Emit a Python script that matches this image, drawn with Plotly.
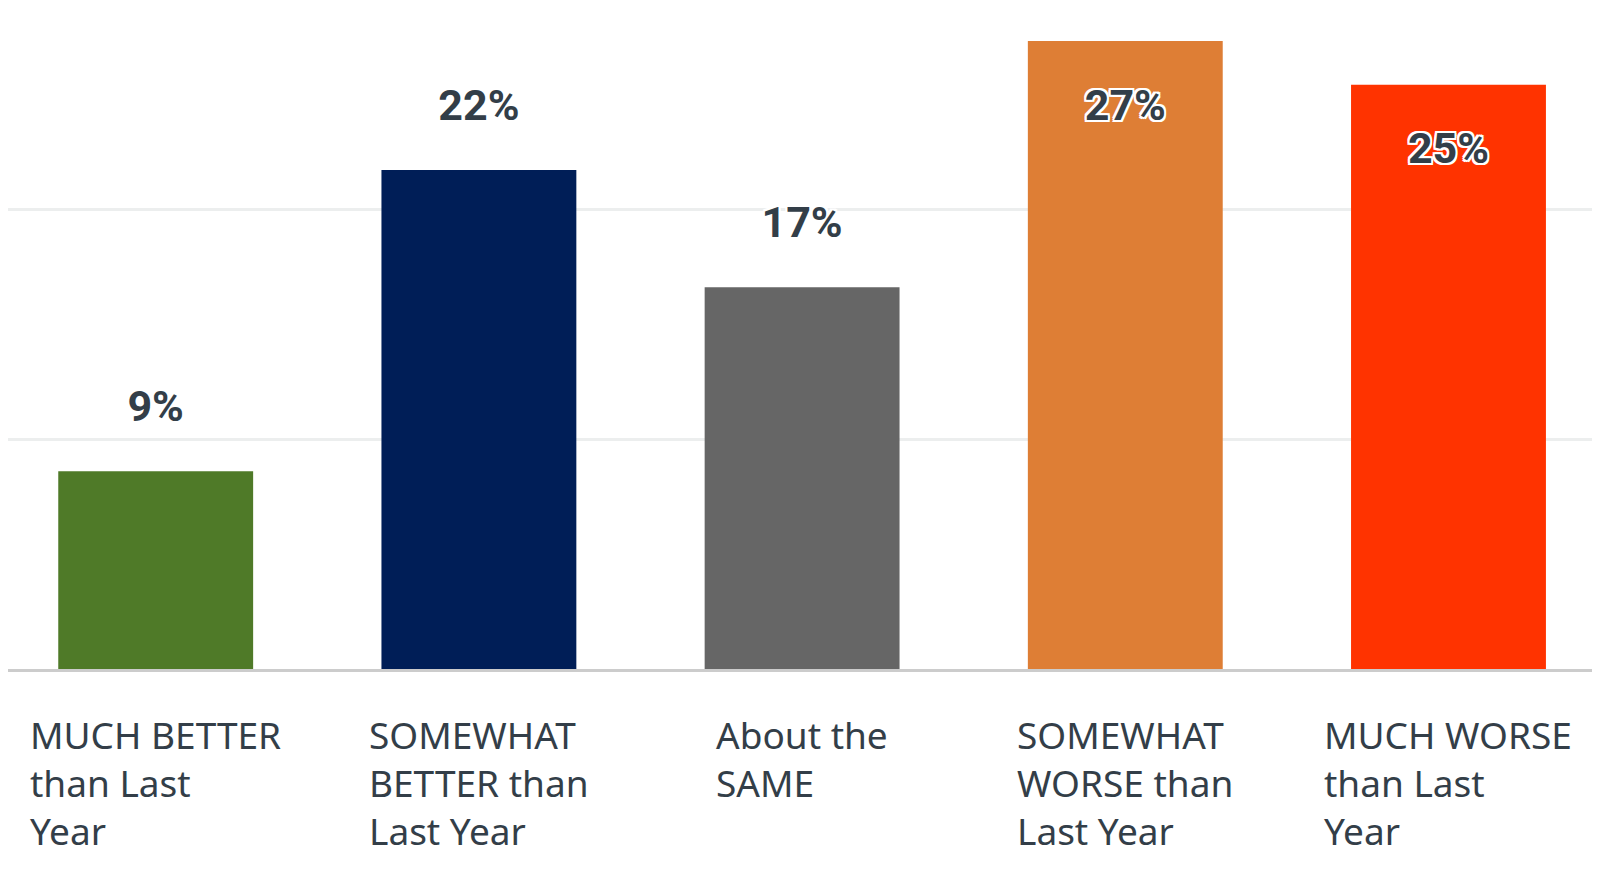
import plotly.graph_objects as go

categories = ["MUCH BETTER than Last Year", "SOMEWHAT BETTER than Last Year",
              "About the SAME", "SOMEWHAT WORSE than Last Year", "MUCH WORSE than Last Year"]
tick_labels = ["MUCH BETTER<br>than Last<br>Year", "SOMEWHAT<br>BETTER than<br>Last Year",
               "About the<br>SAME", "SOMEWHAT<br>WORSE than<br>Last Year", "MUCH WORSE<br>than Last<br>Year"]
values = [8.6, 21.7, 16.6, 27.3, 25.4]
value_labels = ["9%", "22%", "17%", "27%", "25%"]
colors = ["#4f7a28", "#001e57", "#666666", "#de7e35", "#ff3300"]

Y_MAX = 28.74
LABEL_OFFSET = 2.8
TEXT_NUDGE = -0.15
TEXT_COLOR = "#333e48"

label_y = [(v + LABEL_OFFSET if v + 2 * LABEL_OFFSET <= Y_MAX else v - LABEL_OFFSET) + TEXT_NUDGE
           for v in values]

fig = go.Figure()
fig.add_trace(go.Bar(x=categories, y=values, marker=dict(color=colors, line=dict(width=0)),
                     width=0.603, hoverinfo="skip"))
fig.add_trace(go.Scatter(
    x=categories, y=label_y, mode="text", text=value_labels, textposition="middle center",
    textfont=dict(family="Roboto", size=43, color=TEXT_COLOR, weight="bold",
                  shadow="2px 2px 0 #fff, -2px -2px 0 #fff, 2px -2px 0 #fff, -2px 2px 0 #fff, 0 2px 0 #fff, 0 -2px 0 #fff, 2px 0 0 #fff, -2px 0 0 #fff"),
    hoverinfo="skip", cliponaxis=False))

for c, t in zip(categories, tick_labels):
    fig.add_annotation(x=c, y=0, xref="x", yref="paper", text=t, showarrow=False,
                       xanchor="center", yanchor="top", align="left", yshift=-38,
                       font=dict(family="Noto Sans", size=37, color=TEXT_COLOR))

fig.update_layout(
    width=1592, height=875, margin=dict(l=0, r=0, t=0, b=214),
    paper_bgcolor="white", plot_bgcolor="white", showlegend=False,
    xaxis=dict(range=[-0.457, 4.4688], showticklabels=False, ticks="", showgrid=False,
               showline=True, linecolor="#cccccc", linewidth=3, fixedrange=True),
    yaxis=dict(range=[0, Y_MAX], dtick=10, showticklabels=False, ticks="", showgrid=True,
               gridcolor="#eceeee", gridwidth=3, zeroline=False, fixedrange=True),
)
fig.write_html("out.html")
